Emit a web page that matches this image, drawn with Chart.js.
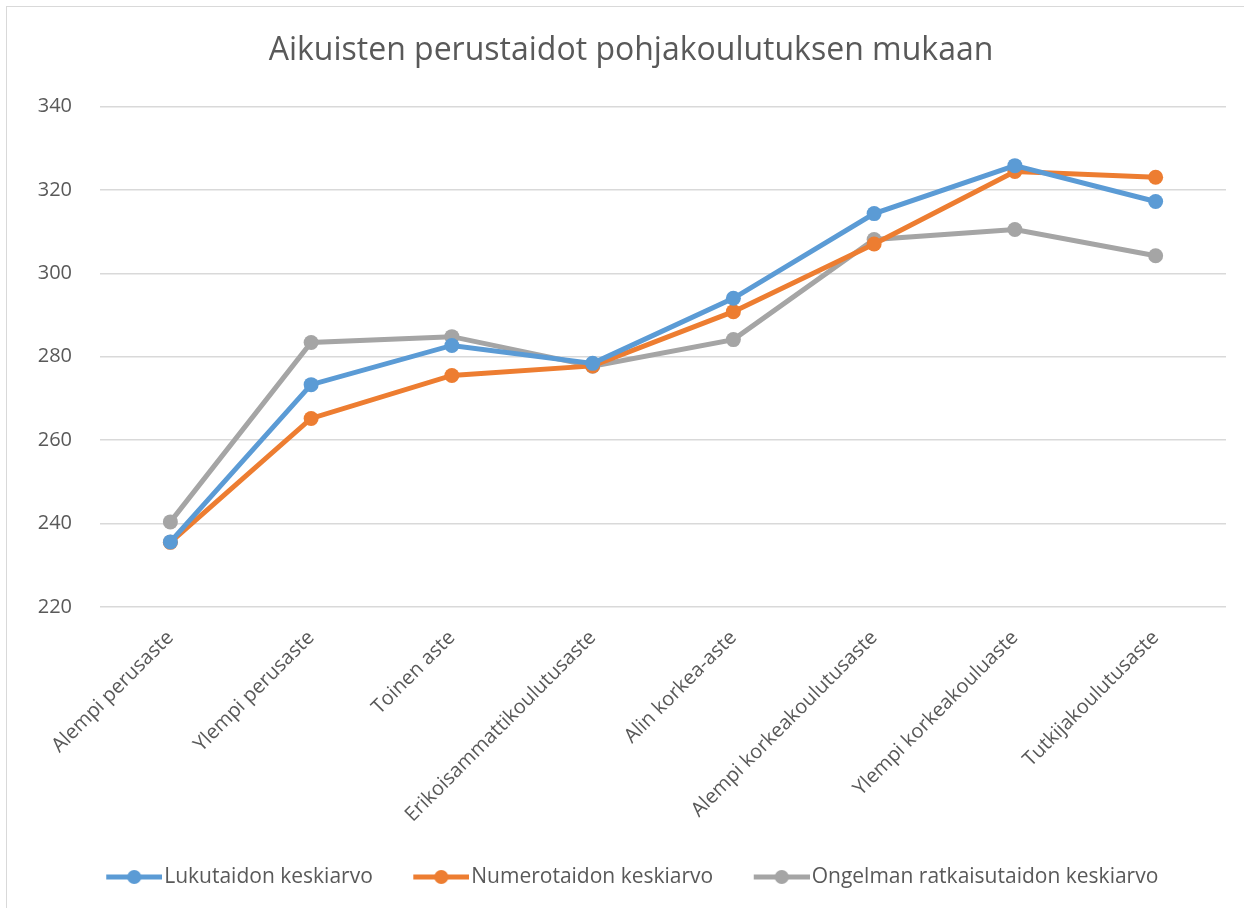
<!DOCTYPE html>
<html>
<head>
<meta charset="utf-8">
<script src="https://cdn.jsdelivr.net/npm/chart.js@4.4.1/dist/chart.umd.min.js"></script>
<style>
  html, body { margin: 0; padding: 0; background: #ffffff; overflow: hidden; }
  #frame { position: absolute; left: 6px; top: 6px; width: 1250px; height: 910px; border: 1.5px solid #d9d9d9; box-sizing: border-box; }
  #wrap { position: absolute; left: 0; top: 0; width: 1244px; height: 908px; }
</style>
</head>
<body>
<div id="frame"></div>
<div id="wrap"><canvas id="c" width="1244" height="908"></canvas></div>
<script>
const chartTitle = 'Aikuisten perustaidot pohjakoulutuksen mukaan';
const categories = ['Alempi perusaste', 'Ylempi perusaste', 'Toinen aste', 'Erikoisammattikoulutusaste', 'Alin korkea-aste', 'Alempi korkeakoulutusaste', 'Ylempi korkeakouluaste', 'Tutkijakoulutusaste'];
const seriesNames = ['Lukutaidon keskiarvo', 'Numerotaidon keskiarvo', 'Ongelman ratkaisutaidon keskiarvo'];
const lukutaito = [235.6, 273.3, 282.7, 278.4, 294.0, 314.3, 325.8, 317.2];
const numerotaito = [235.5, 265.2, 275.5, 277.8, 290.8, 307.0, 324.4, 323.0];
const ongelmanratkaisu = [240.4, 283.4, 284.8, 277.7, 284.1, 308.1, 310.5, 304.2];
const yTicks = [220, 240, 260, 280, 300, 320, 340];

const colors = ['#5B9BD5', '#ED7D31', '#A5A5A5'];
const textColor = '#595959';
const FONT = '"Open Sans", "DejaVu Sans", sans-serif';

// legend marker: line with a dot, drawn in the right part of a wider transparent image
const ICON_BOX = 82;
function legendIcon(color) {
  const cv = document.createElement('canvas');
  cv.width = 99; cv.height = 16;
  const g = cv.getContext('2d');
  g.strokeStyle = color; g.lineWidth = 5; g.lineCap = 'butt';
  g.beginPath(); g.moveTo(43, 8); g.lineTo(99, 8); g.stroke();
  g.fillStyle = color;
  g.beginPath(); g.arc(71, 8, 7, 0, Math.PI * 2); g.fill();
  return cv;
}

const legendShift = {
  id: 'legendShift',
  afterLayout(chart) {
    if (chart.legend) { chart.legend.left -= 16; chart.legend.right -= 16; }
  }
};

const seriesData = [lukutaito, numerotaito, ongelmanratkaisu];
const datasets = seriesNames.map((name, i) => ({
  label: name,
  data: seriesData[i],
  borderColor: colors[i],
  backgroundColor: colors[i],
  borderWidth: 5,
  pointRadius: 7.5,
  pointHoverRadius: 7.5,
  pointBorderWidth: 0,
  pointStyle: 'circle',
  tension: 0,
  fill: false
}));

new Chart(document.getElementById('c'), {
  type: 'line',
  data: { labels: categories, datasets },
  plugins: [legendShift],
  options: {
    responsive: false,
    animation: false,
    events: [],
    layout: { padding: { left: 36, right: 18, top: 0, bottom: 10.5 } },
    plugins: {
      title: {
        display: true,
        text: chartTitle,
        color: textColor,
        font: { family: FONT, size: 32, weight: 'normal' },
        padding: { top: 32, bottom: 36 }
      },
      legend: {
        position: 'bottom',
        labels: {
          color: textColor,
          font: { family: FONT, size: 21 },
          usePointStyle: true,
          pointStyleWidth: ICON_BOX,
          padding: 6,
          generateLabels: (chart) => chart.data.datasets.map((ds, i) => ({
            text: ds.label,
            fillStyle: ds.borderColor,
            strokeStyle: ds.borderColor,
            pointStyle: legendIcon(ds.borderColor),
            lineWidth: 0,
            datasetIndex: i,
            fontColor: textColor
          }))
        }
      },
      tooltip: { enabled: false }
    },
    scales: {
      x: {
        offset: true,
        grid: { display: false, drawTicks: false },
        border: { display: false },
        ticks: {
          color: textColor,
          font: { family: FONT, size: 20 },
          maxRotation: 45,
          minRotation: 45,
          padding: 19,
          autoSkip: false
        },
        afterFit: (s) => { s.height = 253.5; }
      },
      y: {
        min: 220,
        max: 340,
        afterBuildTicks: (s) => { s.ticks = yTicks.map(v => ({ value: v })); },
        grid: { color: '#d9d9d9', lineWidth: 1.5, drawTicks: false },
        border: { display: false },
        ticks: {
          color: textColor,
          font: { family: FONT, size: 20 },
          padding: 28
        },
        afterFit: (s) => { s.width = 64; }
      }
    }
  }
});
</script>
</body>
</html>
